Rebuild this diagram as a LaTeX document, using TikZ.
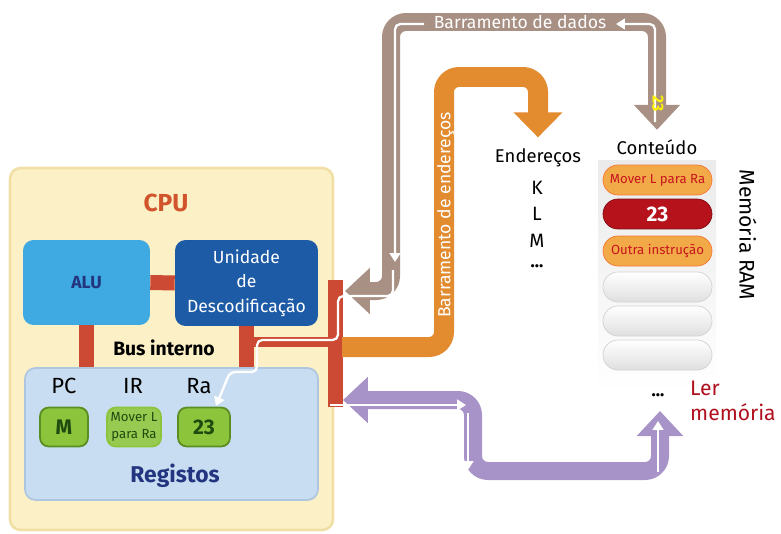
\documentclass[tikz,border=0pt]{standalone}
\usepackage{fontspec}
\setmainfont{Fira Sans}
\usepackage{tikz}
\usetikzlibrary{arrows.meta,shapes.misc}

\definecolor{cpuyellow}{HTML}{FBF0C6}
\definecolor{cpuedge}{HTML}{F1E0A6}
\definecolor{alublue}{HTML}{3FA9E1}
\definecolor{decblue}{HTML}{1E5BA6}
\definecolor{navy}{HTML}{23357F}
\definecolor{regblue}{HTML}{C9DDF2}
\definecolor{regedge}{HTML}{AFC6E0}
\definecolor{busred}{HTML}{CC4A33}
\definecolor{cpured}{HTML}{D2542C}
\definecolor{leafgreen}{HTML}{8CC43C}
\definecolor{leafedge}{HTML}{5A8E22}
\definecolor{darkleaf}{HTML}{1F4A10}
\definecolor{addrorange}{HTML}{E38B2F}
\definecolor{databrown}{HTML}{A89084}
\definecolor{ctrlpurple}{HTML}{A793C7}
\definecolor{pillorange}{HTML}{F2A948}
\definecolor{pillred}{HTML}{B5121B}
\definecolor{textred}{HTML}{C8141E}
\definecolor{lerred}{HTML}{B0101E}

\tikzset{
  unitbox/.style={rounded corners=6pt, inner sep=0pt},
  regbox/.style={rounded corners=5pt, fill=leafgreen, draw=leafedge, line width=1pt,
                 minimum height=0.78cm, inner sep=1pt, text=darkleaf},
  pill/.style={rounded rectangle, minimum width=2.18cm, minimum height=0.6cm, inner sep=0pt},
  greypill/.style={pill, top color=white, bottom color=gray!25, draw=gray!35},
  redbus/.style={busred, line width=0.3cm},
  fatbus/.style={line width=0.36cm, rounded corners=0.3cm, line cap=butt},
  wire/.style={white, line width=1.3pt, rounded corners=3pt, -{Triangle[length=5pt,width=6pt]}},
  lbl/.style={font=\fontsize{10.5}{12}\selectfont},
}

\begin{document}
\begin{tikzpicture}[x=0.02cm,y=-0.02cm,line join=round]
\useasboundingbox (0,0) rectangle (781,534);

%CPU and its units
\node[unitbox, fill=cpuyellow, draw=cpuedge, line width=1.5pt, minimum width=6.46cm, minimum height=7.24cm] (cpu) at (171.5,349) {};
\node[font=\bfseries\fontsize{14}{14}\selectfont, text=cpured] (cputxt) at (166,203) {CPU};
\node[unitbox, fill=alublue, minimum width=2.54cm, minimum height=1.7cm,
      font=\bfseries\fontsize{10}{12}\selectfont, text=navy] (alu) at (86.5,282.5) {ALU};
\node[unitbox, fill=decblue, minimum width=2.86cm, minimum height=1.72cm, align=center,
      font=\fontsize{10}{14}\selectfont, text=white] (dec) at (246.5,283) {Unidade\\de\\Descodificação};
\node[unitbox, fill=regblue, draw=regedge, line width=1pt, minimum width=5.86cm, minimum height=2.64cm] (regs) at (171.5,434) {};

%internal bus
\coordinate (rtop) at (335,280);
\coordinate (rbot) at (335,407);
\coordinate (dj) at (250,342);
\draw[redbus] (alu.east) -- (dec.west);
\draw[redbus] (alu.south) -- (alu.south |- regs.north);
\draw[redbus] (dec.south) -- (dec.south |- regs.north);
\draw[redbus, line width=0.2cm] (dec.south |- dj) -- (dj -| rbot);
\draw[redbus] (rtop) -- (rbot);
\node[font=\bfseries\fontsize{11}{12}\selectfont] (busint) at (164,348) {Bus interno};

%registers
\node[font=\fontsize{12.5}{13}\selectfont] (pc) at (64,386) {PC};
\node[font=\fontsize{12.5}{13}\selectfont] (ir) at (133,386) {IR};
\node[font=\fontsize{12.5}{13}\selectfont] (ra) at (199,386) {Ra};
\node[regbox, minimum width=0.96cm, font=\bfseries\fontsize{12}{12}\selectfont] (pcval) at (64,427) {M};
\node[regbox, minimum width=1.08cm, fill=leafgreen!90, draw=leafgreen, align=center,
      font=\fontsize{7.5}{10}\selectfont] (irval) at (134,427) {Mover L\\para Ra};
\node[regbox, minimum width=1.04cm, font=\bfseries\fontsize{12}{12}\selectfont] (raval) at (204,427) {23};
\node[font=\bfseries\fontsize{13}{14}\selectfont, text=navy] (regtxt) at (175,476) {Registos};

%memory
\shade[top color=gray!16, bottom color=white] (598,160) rectangle (716,392);
\node[lbl] (cont) at (657,147) {Conteúdo};
\node[pill, fill=pillorange, draw=pillorange!70!red, text=textred, font=\fontsize{7.5}{8}\selectfont] (m1) at (657.5,180) {Mover L para Ra};
\node[pill, fill=pillred, draw=pillred!70!black, text=white, font=\bfseries\fontsize{12}{12}\selectfont] (m2) at (657.5,214) {23};
\node[pill, fill=pillorange, draw=pillorange!70!red, text=textred, font=\fontsize{7.5}{8}\selectfont] (m3) at (657.5,251) {Outra instrução};
\node[greypill] (m4) at (657.5,287) {};
\node[greypill] (m5) at (657.5,321) {};
\node[greypill] (m6) at (657.5,355) {};
\node[font=\bfseries\fontsize{10}{10}\selectfont] (mdots) at (658,395) {...};
\node[rotate=-90, font=\fontsize{12}{12}\selectfont] (ramtxt) at (748,235) {Memória RAM};
\node[anchor=west, align=left, text=lerred, font=\fontsize{12}{14}\selectfont] (ler) at (684,401) {Ler\\memória};

\node[lbl] (end) at (538,158) {Endereços};
\node[font=\fontsize{11}{12}\selectfont] (ak) at (537,188) {K};
\node[font=\fontsize{11}{12}\selectfont] (al) at (537,214) {L};
\node[font=\fontsize{11}{12}\selectfont] (am) at (537,241) {M};
\node[font=\bfseries\fontsize{10}{10}\selectfont] (adots) at (537,266) {...};

%address bus
\coordinate (obus) at (342,347);
\draw[fatbus, line width=0.4cm, addrorange, -{Triangle[length=0.5cm,width=0.95cm]}] (obus) -| (444,77) -| ([yshift=3pt]end.north);
\node[rotate=90, text=white, font=\fontsize{10}{10}\selectfont] (addrtxt) at (446,215) {Barramento de endereços};

%data bus
\coordinate (dtip) at (345,291);
\draw[fatbus, databrown, {Triangle[length=0.5cm,width=0.9cm]}-{Triangle[length=0.5cm,width=0.9cm]}] (dtip) -| (391,22) -| ([yshift=2pt]cont.north);
\node[text=white, fill=databrown, inner sep=1pt, font=\fontsize{10}{10}\selectfont] (datatxt) at (520,22) {Barramento de dados};
\draw[wire] (655,122) |- (616,24);
\draw[wire] (424,24) -| (395,262);
\draw[wire] (393,270) |- (338,296) |- (257,340) |- (230,372) -- (216,406);
\node[rotate=-90, text=yellow, font=\bfseries\fontsize{9}{9}\selectfont] (val) at (658,104) {23};

%control bus
\coordinate (ptip) at (343,400);
\coordinate (rtip) at (660,411);
\draw[fatbus, ctrlpurple, {Triangle[length=0.5cm,width=0.9cm]}-{Triangle[length=0.5cm,width=0.9cm]}] (ptip) -| (473,471) -| (rtip);
\draw[wire] (330,405) -- (466,405);
\draw[wire] (468,413) -- (468,470);
\draw[wire] (658,472) -- (658,421);
\end{tikzpicture}
\end{document}
